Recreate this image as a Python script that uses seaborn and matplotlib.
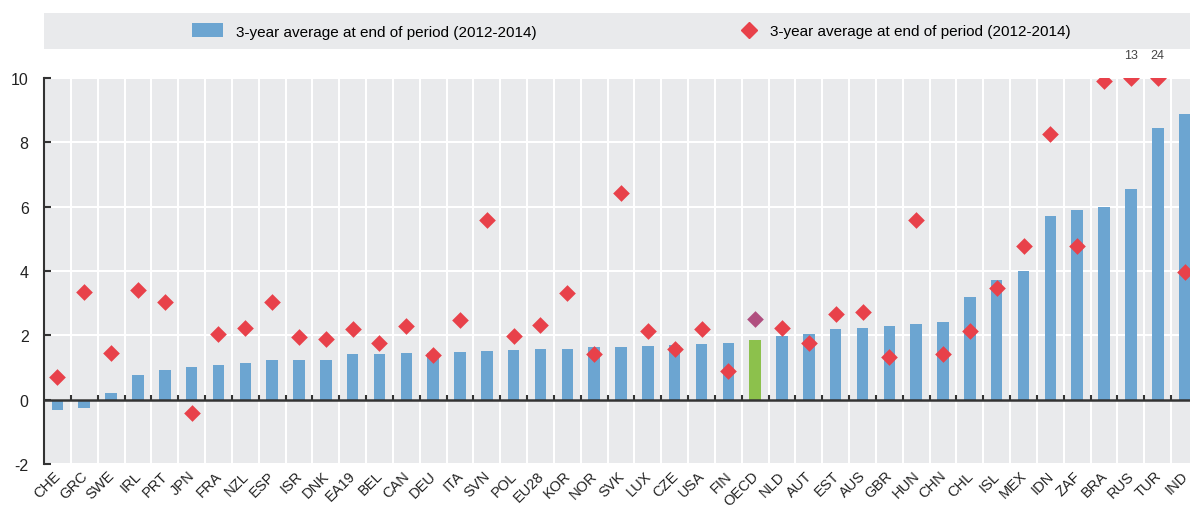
import numpy as np
import matplotlib
matplotlib.use("Agg")
import matplotlib.pyplot as plt
import matplotlib.transforms as mtransforms
from matplotlib.patches import Rectangle, Patch
from matplotlib.lines import Line2D
import seaborn as sns

countries = ["CHE", "GRC", "SWE", "IRL", "PRT", "JPN", "FRA", "NZL", "ESP", "ISR",
             "DNK", "EA19", "BEL", "CAN", "DEU", "ITA", "SVN", "POL", "EU28", "KOR",
             "NOR", "SVK", "LUX", "CZE", "USA", "FIN", "OECD", "NLD", "AUT", "EST",
             "AUS", "GBR", "HUN", "CHN", "CHL", "ISL", "MEX", "IDN", "ZAF", "BRA",
             "RUS", "TUR", "IND"]

bar_values = [-0.32, -0.26, 0.21, 0.78, 0.91, 1.01, 1.09, 1.13, 1.22, 1.23,
              1.23, 1.41, 1.41, 1.46, 1.44, 1.49, 1.52, 1.53, 1.57, 1.58,
              1.63, 1.64, 1.68, 1.70, 1.74, 1.77, 1.87, 1.98, 2.03, 2.19,
              2.24, 2.30, 2.36, 2.41, 3.18, 3.71, 4.01, 5.72, 5.90, 6.00,
              6.56, 8.46, 8.87]

marker_values = [0.69, 3.34, 1.46, 3.42, 3.04, -0.40, 2.04, 2.23, 3.03, 1.95,
                 1.88, 2.19, 1.77, 2.30, 1.38, 2.47, 5.57, 1.99, 2.33, 3.32,
                 1.42, 6.41, 2.13, 1.59, 2.19, 0.88, 2.52, 2.24, 1.75, 2.67,
                 2.71, 1.33, 5.60, 1.43, 2.13, 3.48, 4.78, 8.27, 4.78, 9.90,
                 13, 24, 3.98]

legend_labels = ["3-year average at end of period (2012-2014)",
                 "3-year average at end of period (2012-2014)"]

y_ticks = [-2, 0, 2, 4, 6, 8, 10]
y_max = 10

BLUE = "#6ca5d1"
GREEN = "#8cc14c"
RED = "#e8414a"
PURPLE = "#b04f7f"
BG = "#e9eaec"
DARK = "#333333"

bar_colors = [GREEN if c == "OECD" else BLUE for c in countries]
marker_colors = [PURPLE if c == "OECD" else RED for c in countries]
shown_markers = [min(v, y_max) for v in marker_values]

plt.rcParams["font.family"] = ["Liberation Sans Narrow", "Liberation Sans", "DejaVu Sans"]
plt.rcParams["axes.unicode_minus"] = False

fig = plt.figure(figsize=(11.9, 5.1), dpi=100)
ax = fig.add_axes([44 / 1190, 45 / 510, 1154 / 1190, 386 / 510])
ax.set_facecolor(BG)

sns.barplot(x=countries, y=bar_values, hue=countries, palette=bar_colors,
            legend=False, width=0.43, saturation=1, ax=ax, zorder=2)
sns.stripplot(x=countries, y=shown_markers, hue=countries, palette=marker_colors,
              legend=False, jitter=False, marker="D", size=8.5, linewidth=0,
              ax=ax, zorder=4)

# values beyond the axis shown as text
for i, v in enumerate(marker_values):
    if v > y_max:
        ax.annotate(f"{v:g}", (i, y_max), xytext=(0, 12), textcoords="offset points",
                    ha="center", va="bottom", fontsize=9, color="#444444",
                    annotation_clip=False)

n = len(countries)
ax.set_xlim(-0.5, n - 0.5)
ax.set_ylim(-2, 10)
ax.set_yticks(y_ticks)
ax.set_xticks(np.arange(n) + 0.5, minor=True)
ax.grid(which="minor", axis="x", color="white", lw=1.5, zorder=0)
ax.grid(which="major", axis="y", color="white", lw=1.5, zorder=0)
ax.grid(which="major", axis="x", visible=False)
ax.set_axisbelow(True)

ax.axhline(0, color=DARK, lw=1.8, zorder=3)
ax.vlines(np.arange(n - 1) + 0.5, 0, 0.15, color=DARK, lw=1.5, zorder=3)

for s in ["top", "right", "bottom"]:
    ax.spines[s].set_visible(False)
ax.spines["left"].set_color(DARK)
ax.spines["left"].set_linewidth(1.5)

ax.tick_params(axis="y", direction="in", length=5, width=1.5, color=DARK,
               pad=11, labelsize=11.5, labelcolor="#222222")
ax.tick_params(axis="x", which="both", length=0, pad=3, labelsize=10.5,
               labelcolor="#222222")
shift = mtransforms.ScaledTranslation(-0.04, 0, fig.dpi_scale_trans)
for lbl in ax.get_xticklabels():
    lbl.set_rotation(45)
    lbl.set_ha("right")
    lbl.set_rotation_mode("anchor")
    lbl.set_transform(lbl.get_transform() + shift)
ax.set_xlabel("")
ax.set_ylabel("")

# legend band
fig.add_artist(Rectangle((44 / 1190, 460 / 510), 1146 / 1190, 36 / 510,
                         transform=fig.transFigure, facecolor=BG,
                         edgecolor="none", zorder=5))
leg1 = fig.legend(handles=[Patch(facecolor=BLUE, label=legend_labels[0])],
                  loc="center left", bbox_to_anchor=(192 / 1190, 478 / 510),
                  frameon=False, borderpad=0, borderaxespad=0, fontsize=11,
                  handlelength=2.0, handleheight=1.0, handletextpad=0.9)
leg2 = fig.legend(handles=[Line2D([], [], marker="D", color=RED, lw=0,
                                  markersize=8.5, label=legend_labels[1])],
                  loc="center left", bbox_to_anchor=(738 / 1190, 478 / 510),
                  frameon=False, borderpad=0, borderaxespad=0, fontsize=11,
                  handlelength=1.5, handletextpad=0.6)
leg1.set_zorder(6)
leg2.set_zorder(6)

fig.savefig("out.png", dpi=100)
